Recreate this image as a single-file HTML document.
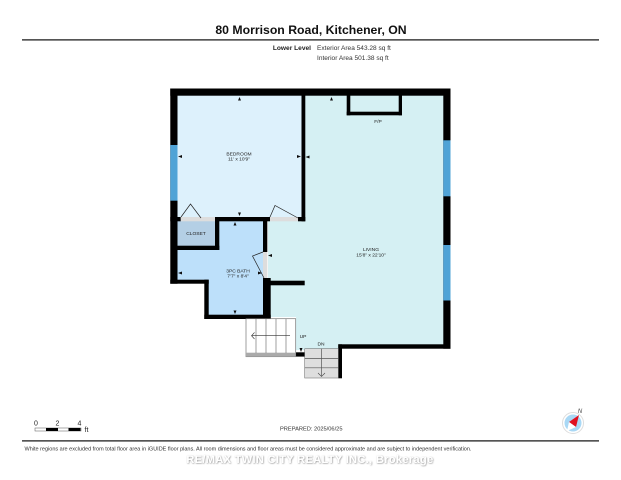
<!DOCTYPE html>
<html><head><meta charset="utf-8"><style>
html,body{margin:0;padding:0;background:#fff;width:621px;height:480px;overflow:hidden}
svg{display:block}
text{font-family:"Liberation Sans",sans-serif}
</style></head><body>
<svg width="621" height="480" viewBox="0 0 621 480" xmlns="http://www.w3.org/2000/svg">
<defs><filter id="b" x="-5%" y="-5%" width="110%" height="110%"><feGaussianBlur stdDeviation="0.35"/></filter>
<filter id="s" x="-5%" y="-30%" width="110%" height="160%"><feDropShadow dx="0.5" dy="0.5" stdDeviation="0.7" flood-color="#888" flood-opacity="1"/></filter></defs>
<rect width="621" height="480" fill="#fff"/>
<text x="311" y="34" font-size="12.250" font-weight="bold" text-anchor="middle" fill="#111">80 Morrison Road, Kitchener, ON</text>
<rect x="22" y="39" width="577" height="1.700" fill="#555"/>
<text x="311" y="50" font-size="6.600" font-weight="bold" text-anchor="end" fill="#222">Lower Level</text>
<text x="317" y="50" font-size="6.550" fill="#333">Exterior Area 543.28 sq ft</text>
<text x="317" y="60" font-size="6.550" fill="#333">Interior Area 501.38 sq ft</text>

<g filter="url(#b)">
<!-- rooms -->
<polygon points="303,92 447,92 447,346 340,346 340,350 296,350 296,317 268,317 268,219 303,219" fill="#D5F0F3"/>
<rect x="175" y="93" width="128" height="126" fill="#DDF1FC"/>
<rect x="175" y="219" width="42" height="29" fill="#B4CFE5"/>
<polygon points="217,219 265,219 265,317 206,317 206,282 175,282 175,248 217,248" fill="#BDE0FA"/>
<rect x="350" y="95" width="49" height="17" fill="#D5F0F3"/>
<!-- walls -->
<g fill="#000">
<rect x="170.300" y="88.500" width="280.200" height="7.200"/>
<rect x="170.300" y="88.500" width="7.200" height="195.200"/>
<rect x="443.300" y="88.500" width="7.200" height="260.200"/>
<rect x="301.500" y="88.500" width="3.800" height="132.800"/>
<rect x="298" y="217" width="7.300" height="4.300"/>
<rect x="215" y="217" width="55" height="4.300"/>
<rect x="170.300" y="217" width="10.500" height="4.300"/>
<rect x="215" y="217" width="4.300" height="33"/>
<rect x="177" y="245.700" width="42.300" height="4.300"/>
<rect x="263" y="217" width="4.300" height="35"/>
<rect x="263" y="278" width="7.700" height="41"/>
<rect x="267" y="280.700" width="37.700" height="4.600"/>
<rect x="170.300" y="279.700" width="38.400" height="4"/>
<rect x="204.300" y="279.700" width="4.400" height="39.300"/>
<rect x="204.300" y="314.700" width="66.400" height="4.300"/>
<rect x="338.300" y="344.300" width="112.200" height="4.400"/>
<rect x="338.300" y="344.300" width="3.700" height="34"/>
<rect x="295" y="352.300" width="10" height="4.300"/>
<rect x="346.700" y="95" width="3.600" height="20.300"/>
<rect x="398.700" y="95" width="3.300" height="20.300"/>
<rect x="346.700" y="111.700" width="55.300" height="3.600"/>
</g>
<!-- windows -->
<rect x="170.300" y="145" width="7.200" height="55.700" fill="#4FA3D6"/>
<rect x="443.300" y="140.300" width="7.200" height="56" fill="#4FA3D6"/>
<rect x="443.300" y="245" width="7.200" height="55.500" fill="#4FA3D6"/>
<!-- door thresholds -->
<rect x="180.800" y="217" width="34.200" height="4.300" fill="#DDD"/>
<rect x="270" y="217" width="28" height="4.300" fill="#DDD"/>
<rect x="263" y="252" width="4.300" height="26" fill="#DDD"/>
<!-- door swings -->
<g fill="none" stroke="#222" stroke-width=".7">
<polyline points="181,217 190.500,204 201,218"/>
<polyline points="270,217 275,205.500 298,218"/>
<polyline points="263,252 252.500,256 264,278"/>
</g>
<!-- stairs up -->
<rect x="246" y="318.700" width="49.700" height="38" fill="#fff" stroke="#777" stroke-width=".7"/>
<rect x="246" y="352.700" width="49.700" height="4" fill="#aaa"/>
<g stroke="#777" stroke-width=".7">
<line x1="256" y1="319" x2="256" y2="353"/>
<line x1="266" y1="319" x2="266" y2="353"/>
<line x1="276" y1="319" x2="276" y2="353"/>
<line x1="286" y1="319" x2="286" y2="353"/>
</g>
<line x1="252" y1="335.700" x2="290" y2="335.700" stroke="#333" stroke-width=".6"/>
<polyline points="254.500,332.500 251.500,335.700 254.500,339" fill="none" stroke="#333" stroke-width=".6"/>
<!-- stairs down -->
<rect x="304.700" y="348.700" width="33.600" height="29.300" fill="#DEDEDE" stroke="#777" stroke-width=".6"/>
<g stroke="#555" stroke-width=".7">
<line x1="304.700" y1="358.500" x2="338.300" y2="358.500"/>
<line x1="304.700" y1="367.800" x2="338.300" y2="367.800"/>
<line x1="321.500" y1="348.700" x2="321.500" y2="376"/>
</g>
<polyline points="318,373 321.500,376.500 325,373" fill="none" stroke="#444" stroke-width=".6"/>
<!-- dimension arrows -->
<g fill="#111">
<polygon points="239.500,97 238,100.500 241,100.500"/>
<polygon points="239.500,216 238,212.500 241,212.500"/>
<polygon points="178,156.500 182,155 182,158"/>
<polygon points="301,156.500 297,155 297,158"/>
<polygon points="235,222 233.500,225.500 236.500,225.500"/>
<polygon points="235,314 233.500,310.500 236.500,310.500"/>
<polygon points="178,273 182,271.500 182,274.500"/>
<polygon points="262,273 258,271.500 258,274.500"/>
<polygon points="268,255.500 272,254 272,257"/>
<polygon points="305.500,157 309.500,155.500 309.500,158.500"/>
<polygon points="331.500,97 330,100.500 333,100.500"/>
<polygon points="301,352 299.500,348 302.500,348"/>
</g>
</g>
<!-- labels -->
<g font-size="4.900" fill="#222" text-anchor="middle">
<text x="239" y="155.500">BEDROOM</text>
<text x="239" y="160.500">11' x 10'9"</text>
<text x="196" y="235">CLOSET</text>
<text x="238" y="272.500">3PC BATH</text>
<text x="238" y="277.500">7'7" x 8'4"</text>
<text x="371" y="251">LIVING</text>
<text x="371" y="256.500">15'8" x 22'10"</text>
<text x="378" y="123">F/P</text>
<text x="303" y="338">UP</text>
<text x="321" y="345.500">DN</text>
</g>
<!-- scale -->
<g font-size="7" fill="#222">
<text x="36" y="425.500" text-anchor="middle">0</text>
<text x="57.500" y="425.500" text-anchor="middle">2</text>
<text x="79.500" y="425.500" text-anchor="middle">4</text>
<text x="84.500" y="432">ft</text>
</g>
<rect x="35" y="428" width="46" height="3" fill="#fff" stroke="#555" stroke-width=".5"/>
<rect x="46" y="428" width="12" height="3" fill="#000"/>
<rect x="68.500" y="428" width="12" height="3" fill="#000"/>
<text x="280" y="430.500" font-size="5.700" fill="#333">PREPARED: 2025/06/25</text>
<!-- compass -->
<circle cx="573" cy="423" r="10.500" fill="#fff" stroke="#ddd" stroke-width="1"/>
<circle cx="573" cy="423" r="8.500" fill="#A9D8F5"/>
<polygon points="579,415 576,427 569,422" fill="#E01020"/>
<polygon points="576,427 569,422 567,431" fill="#fff"/>
<text x="580" y="413" font-size="6" font-style="italic" fill="#444" text-anchor="middle">N</text>
<!-- footer -->
<rect x="22" y="440" width="577" height="1.700" fill="#555"/>
<text x="24.500" y="450.500" font-size="5.510" fill="#333">White regions are excluded from total floor area in iGUIDE floor plans. All room dimensions and floor areas must be considered approximate and are subject to independent verification.</text>
<text x="310" y="463" font-size="11" font-weight="bold" text-anchor="middle" fill="#fff" filter="url(#s)" letter-spacing=".35">RE/MAX TWIN CITY REALTY INC., Brokerage</text>
</svg>
</body></html>
